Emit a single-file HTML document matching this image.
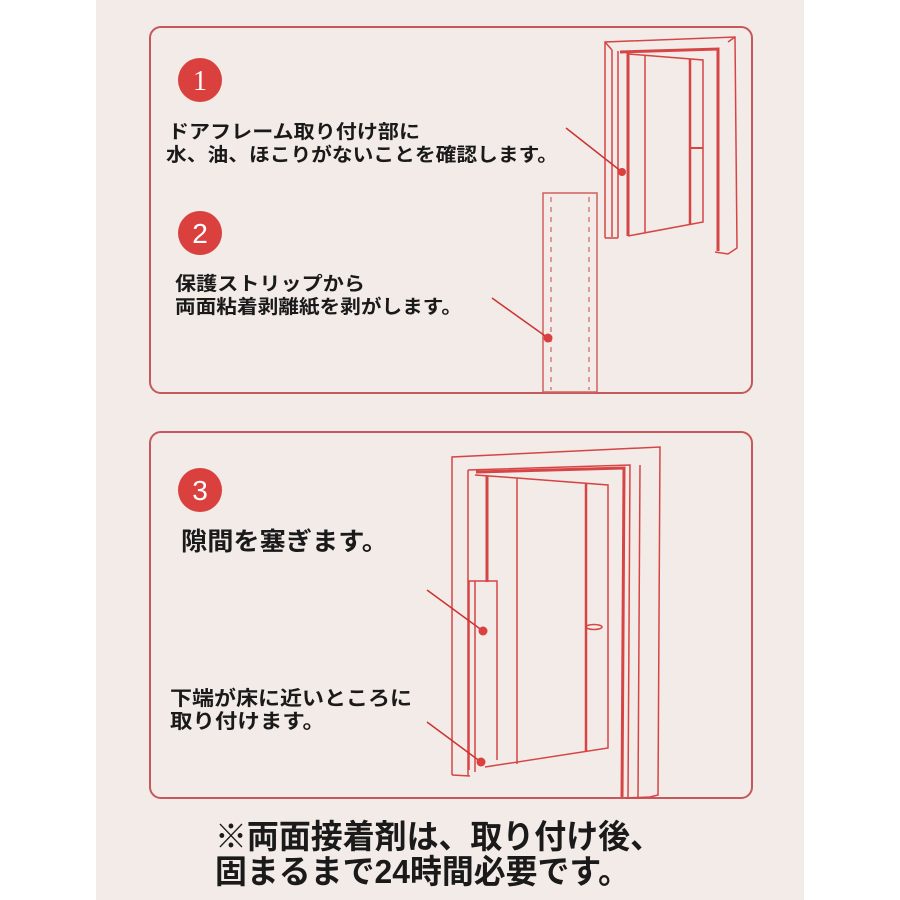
<!DOCTYPE html>
<html><head><meta charset="utf-8">
<style>
html,body{margin:0;padding:0;background:#fff;}
svg{display:block;}
text{font-family:"Liberation Sans","Noto Sans CJK JP",sans-serif;}
</style></head><body>
<svg width="900" height="900" viewBox="0 0 900 900" xmlns="http://www.w3.org/2000/svg">
<rect x="96" y="0" width="708" height="900" fill="#f3ebe7"/>
<rect x="150" y="27" width="602" height="366" rx="11" fill="none" stroke="#c4585a" stroke-width="2"/>
<rect x="150" y="432" width="602" height="366" rx="11" fill="none" stroke="#c4585a" stroke-width="2"/>

<g fill="#d9403e">
<circle cx="200" cy="80" r="22"/><circle cx="200" cy="233" r="22"/><circle cx="200" cy="490" r="22"/>
</g>
<g fill="#fff" font-size="28" text-anchor="middle" font-family="Liberation Serif, serif">
<text x="200" y="90" style="font-family:'Liberation Serif',serif">1</text>
<text x="200" y="243" style="font-family:'Liberation Sans',sans-serif">2</text>
<text x="200" y="500" style="font-family:'Liberation Sans',sans-serif">3</text>
</g>

<g fill="#1a1a1a" font-weight="bold">
<text x="168" y="138" font-size="19" textLength="252" lengthAdjust="spacingAndGlyphs">ドアフレーム取り付け部に</text>
<text x="166" y="161" font-size="19" textLength="392" lengthAdjust="spacingAndGlyphs">水、油、ほこりがないことを確認します。</text>
<text x="175" y="290" font-size="19" textLength="190" lengthAdjust="spacingAndGlyphs">保護ストリップから</text>
<text x="175" y="313" font-size="19" textLength="287" lengthAdjust="spacingAndGlyphs">両面粘着剥離紙を剥がします。</text>
<text x="181" y="550" font-size="25" textLength="207" lengthAdjust="spacingAndGlyphs">隙間を塞ぎます。</text>
<text x="170" y="705" font-size="20" textLength="242" lengthAdjust="spacingAndGlyphs">下端が床に近いところに</text>
<text x="170" y="728" font-size="20" textLength="155" lengthAdjust="spacingAndGlyphs">取り付けます。</text>
<text x="215" y="848" font-size="33" textLength="447" lengthAdjust="spacingAndGlyphs">※両面接着剤は、取り付け後、</text>
<text x="215" y="883" font-size="33" textLength="415" lengthAdjust="spacingAndGlyphs">固まるまで24時間必要です。</text>
</g>

<!-- Door 1 -->
<g fill="none" stroke="#d64545" stroke-width="1.5">
<path d="M605,238 L605,42 L735,37 L737,248 L728,254 L715,252"/>
<path d="M605,42 L612,50"/>
<path d="M735,37 L728,42"/>
<line x1="612" y1="50" x2="612" y2="237"/>
<line x1="618" y1="51" x2="618" y2="238"/>
<path d="M620,52 L718,49 L718,251" stroke-width="3"/>
<line x1="628" y1="52" x2="628" y2="236" stroke-width="3"/>
<line x1="645" y1="55" x2="645" y2="232"/>
<path d="M628,54 L703,60 L703,222 L628,236"/>
<line x1="690" y1="59" x2="690" y2="224" stroke-width="2.5"/>
<line x1="690" y1="148" x2="703" y2="148" stroke-width="2"/>
<line x1="605" y1="238" x2="618" y2="238"/>
</g>
<line x1="566" y1="128" x2="622" y2="172" stroke="#c33" stroke-width="1.5"/>
<circle cx="622" cy="172" r="4" fill="#d9403e"/>

<!-- Strip -->
<rect x="543" y="193" width="54" height="199" fill="none" stroke="#d06060" stroke-width="1.5"/>
<g stroke="#d07070" stroke-width="1.3" stroke-dasharray="5,5">
<line x1="551" y1="197" x2="551" y2="390"/><line x1="589" y1="197" x2="589" y2="390"/>
</g>
<line x1="492" y1="298" x2="548" y2="338" stroke="#c33" stroke-width="1.5"/>
<circle cx="548" cy="338" r="4.5" fill="#d9403e"/>

<!-- Door 2 -->
<g fill="none" stroke="#d64545" stroke-width="1.5">
<path d="M452,775 L452,457 L660,447 L658,795 L650,797 L625,798"/>
<path d="M452,775 L470,776"/>
<line x1="468" y1="470" x2="468" y2="776"/>
<path d="M468,470 L630,465 L628,797" stroke-width="1.5"/>
<path d="M476,472 L624,468 L622,797" stroke-width="3"/>
<line x1="640" y1="465" x2="638" y2="797"/>
<line x1="487" y1="476" x2="487" y2="582" stroke-width="3"/>
<path d="M475,475 L517,478 L608,485 L608,748 L485,767"/>
<line x1="517" y1="478" x2="517" y2="764"/>
<line x1="586" y1="484" x2="586" y2="751" stroke-width="2.5"/>
<ellipse cx="594" cy="627" rx="8" ry="2.5"/>
<path d="M469,770 L469,581 L497,581 L497,760" />
<line x1="475" y1="581" x2="475" y2="772"/>
</g>
<line x1="427" y1="590" x2="483" y2="631" stroke="#c33" stroke-width="1.5"/>
<circle cx="483" cy="631" r="4.5" fill="#d9403e"/>
<line x1="427" y1="722" x2="481" y2="762" stroke="#c33" stroke-width="1.5"/>
<circle cx="481" cy="762" r="4.5" fill="#d9403e"/>
</svg>
</body></html>
